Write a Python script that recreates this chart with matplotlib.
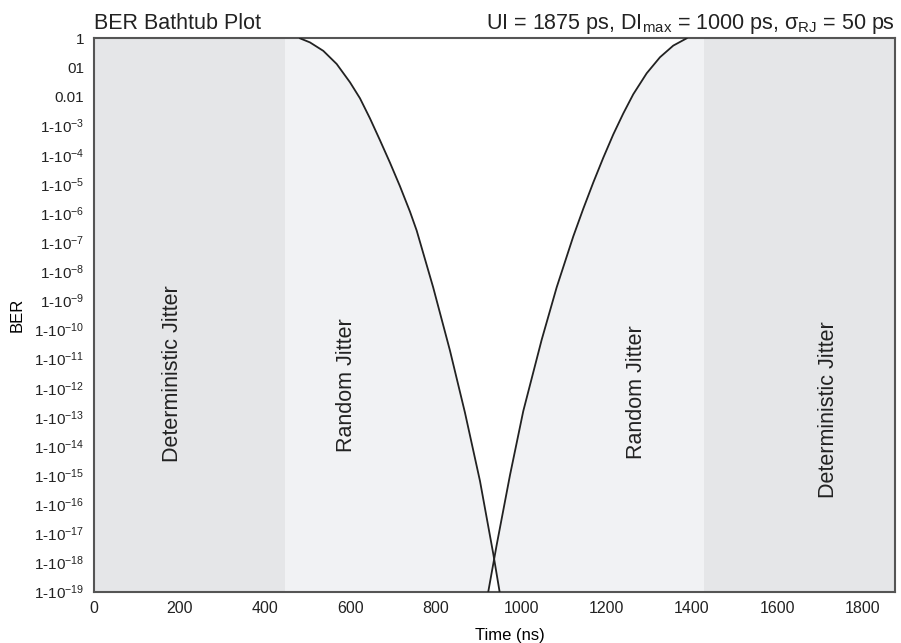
import matplotlib
matplotlib.use("Agg")
import matplotlib.pyplot as plt
import numpy as np

plt.rcParams['font.family'] = ['Liberation Sans', 'DejaVu Sans']
plt.rcParams['mathtext.default'] = 'regular'

# Left random-jitter curve (time, log10 BER)
left_t = [482.2, 505.6, 536.8, 568.1, 599.3, 622.7, 646.1, 669.5, 692.9, 716.3, 739.7, 755.4,
          794.0, 833.3, 868.4, 903.6, 934.7, 949.5]
left_lg = [0.0, -0.14, -0.43, -0.88, -1.51, -2.06, -2.75, -3.50, -4.27, -5.08, -5.95, -6.60,
           -8.55, -10.72, -12.85, -15.20, -17.70, -19.0]
# Right random-jitter curve
right_t = [923.0, 942.6, 973.8, 1004.9, 1048.0, 1083.1, 1122.0, 1145.4, 1168.8, 1192.2, 1215.6,
           1239.0, 1262.4, 1293.8, 1324.9, 1356.0, 1387.4]
right_lg = [-19.0, -17.4, -15.0, -12.80, -10.35, -8.55, -6.80, -5.85, -4.95, -4.10, -3.30,
            -2.58, -1.92, -1.20, -0.65, -0.25, 0.0]

# Regions
ui = 1875
dj_left_end = 447
dj_right_start = 1428

# Y tick labels (as printed)
ytick_exp = list(range(0, -20, -1))
ytick_labels = ["1", "01", "0.01"] + [r"1-10$^{-%d}$" % k for k in range(3, 20)]
xticks = [0, 200, 400, 600, 800, 1000, 1200, 1400, 1600, 1800]

fig = plt.figure(figsize=(9.01, 6.43), dpi=100)
ax = fig.add_axes([0.1043, 0.0798, 0.8890, 0.8606])

ax.axvspan(0, dj_left_end, color='#e5e6e8', lw=0)
ax.axvspan(dj_left_end, dj_right_start, color='#f1f2f4', lw=0)
ax.axvspan(dj_right_start, ui, color='#e5e6e8', lw=0)
# white area between the two curves
lt = np.array(left_t); ll = np.array(left_lg)
rt = np.array(right_t); rl = np.array(right_lg)
ax.fill(np.concatenate([lt, rt]), 10.0 ** np.concatenate([ll, rl]),
        color='white', lw=0, zorder=1)
ax.fill_between([lt[0], rt[-1]], [1, 1], [2, 2], color='white', lw=0, zorder=1)

ax.plot(left_t, 10.0 ** ll, color='#222222', lw=1.3, zorder=3)
ax.plot(right_t, 10.0 ** rl, color='#222222', lw=1.3, zorder=3)

ax.set_yscale('log')
ax.set_xlim(0, ui)
ax.set_ylim(1e-19, 1)
ax.set_yticks([10.0 ** e for e in ytick_exp])
ax.set_yticklabels(ytick_labels)
ax.minorticks_off()
ax.set_xticks(xticks)
ax.set_xticklabels([str(v) for v in xticks])
ax.tick_params(length=0, pad=7, colors='#222222')
ax.tick_params(axis='x', labelsize=11.5)
ax.tick_params(axis='y', labelsize=11)

for s in ax.spines.values():
    s.set_color('#555555')
    s.set_linewidth(1.5)

ax.set_xlabel('Time (ns)', fontsize=12)
ax.xaxis.set_label_coords(0.519, -0.065)
ax.set_ylabel('BER', fontsize=12)
ax.yaxis.set_label_coords(-0.086, 0.5)

tc = '#222222'
ax.text(183, 10 ** -11.5, 'Deterministic Jitter', rotation=90, ha='center', va='center', fontsize=15.5, color=tc)
ax.text(592, 10 ** -11.9, 'Random Jitter', rotation=90, ha='center', va='center', fontsize=15.5, color=tc)
ax.text(1271, 10 ** -12.14, 'Random Jitter', rotation=90, ha='center', va='center', fontsize=15.5, color=tc)
ax.text(1720, 10 ** -12.76, 'Deterministic Jitter', rotation=90, ha='center', va='center', fontsize=15.5, color=tc)

ax.set_title('BER Bathtub Plot', loc='left', fontsize=15.5, pad=7, color=tc)
ax.set_title(r'UI = 1875 ps, DI$_{max}$ = 1000 ps, $\sigma_{RJ}$ = 50 ps', loc='right', fontsize=15.5, pad=7, color=tc)

fig.savefig('out.png', dpi=100)
